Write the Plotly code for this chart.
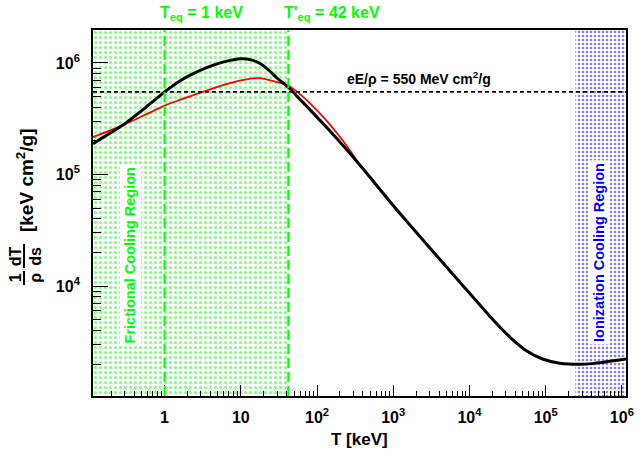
import plotly.graph_objects as go

# ---------------- data ----------------
T_black = [0.1151, 0.2805, 0.5623, 1.021, 1.517, 2.239, 3.707, 5.970, 10.0, 13.74, 18.16,
           23.50, 29.85, 42.27, 54.08, 132.4, 323.6, 1064, 2871, 7762, 20940,
           25590, 34430, 56490, 92900, 152800, 277300, 412100, 1132000]
S_black = [189200, 276100, 398100, 555900, 676100, 785200, 916200, 1021000, 1091000, 1064000, 984000,
           857000, 732800, 602600, 507000, 266100, 134300, 50120, 22910, 10570, 4898,
           4246, 3467, 2630, 2213, 2042, 1995, 2023, 2223]

T_red = [0.1151, 0.2805, 1.021, 1.517, 3.707, 10.0, 17.3, 29.85, 42.27, 54.08,
         80.5, 132.4, 217.8, 323.6]
S_red = [216800, 276100, 416900, 461300, 571500, 696600, 731100, 673000, 623700, 555900,
         436500, 305500, 201800, 138000]

eE_over_rho = 5.5e5          # keV cm^2/g  (550 MeV cm^2/g)
T_eq = 1.0                   # keV
T_eq_prime = 42.0            # keV
T_ion_start = 2.45e5         # keV, start of ionization cooling region
T_fric_start = 0.05

x_tickvals = [1, 10, 100, 1e3, 1e4, 1e5, 1e6]
x_ticktext = ["1", "10", "10<sup>2</sup>", "10<sup>3</sup>", "10<sup>4</sup>",
              "10<sup>5</sup>", "10<sup>6</sup>"]
y_tickvals = [1e4, 1e5, 1e6]
y_ticktext = ["10<sup>4</sup>", "10<sup>5</sup>", "10<sup>6</sup>"]

x_range_log = [-0.939, 6.054]
y_range_log = [3.016, 6.295]

# minor tick positions (2..9 per decade)
x_minor = [m * 10.0 ** e for e in range(-1, 7) for m in range(2, 10)]
y_minor = [m * 10.0 ** e for e in range(3, 7) for m in range(2, 10)]

FONT = "Liberation Sans, Arial, Helvetica, sans-serif"
GREEN = "#00ff00"
BLUE = "#0000ff"

fig = go.Figure()

# shaded regions (dotted patterns)
fig.add_trace(go.Scatter(
    x=[T_fric_start, T_eq_prime, T_eq_prime, T_fric_start],
    y=[100, 100, 1e7, 1e7], mode="lines", fill="toself",
    line=dict(width=0, color="rgba(0,0,0,0)"),
    fillcolor="rgba(0,0,0,0)",
    fillpattern=dict(shape=".", fgcolor=GREEN, bgcolor="rgba(0,0,0,0)",
                     size=5, solidity=0.3),
    hoverinfo="skip", showlegend=False))
fig.add_trace(go.Scatter(
    x=[T_ion_start, 1e7, 1e7, T_ion_start],
    y=[100, 100, 1e7, 1e7], mode="lines", fill="toself",
    line=dict(width=0, color="rgba(0,0,0,0)"),
    fillcolor="rgba(0,0,0,0)",
    fillpattern=dict(shape=".", fgcolor=BLUE, bgcolor="rgba(0,0,0,0)",
                     size=4, solidity=0.33),
    hoverinfo="skip", showlegend=False))

# curves
fig.add_trace(go.Scatter(x=T_red, y=S_red, mode="lines",
                         line=dict(color="#ff0000", width=1.8, shape="spline", smoothing=0.6),
                         showlegend=False))
fig.add_trace(go.Scatter(x=T_black, y=S_black, mode="lines",
                         line=dict(color="black", width=3, shape="spline", smoothing=0.6),
                         showlegend=False))

# invisible trace to hold the minor-tick overlay axes
fig.add_trace(go.Scatter(x=[1.0], y=[1e4], xaxis="x2", yaxis="y2", mode="markers",
                         marker=dict(opacity=0), hoverinfo="skip", showlegend=False))

# reference lines
fig.add_shape(type="line", xref="paper", yref="y", x0=0, x1=1,
              y0=eE_over_rho, y1=eE_over_rho,
              line=dict(color="black", width=1.6, dash="4px,3px"))
for tv in [T_eq, T_eq_prime]:
    fig.add_shape(type="line", xref="x", yref="paper", x0=tv, x1=tv, y0=0, y1=1,
                  line=dict(color=GREEN, width=2, dash="10px,4px"))

# ---- text ----
def ann(text, x, y, size, color="black", angle=0, bg=None, pad=0):
    fig.add_annotation(text=text, x=x, y=y, xref="paper", yref="paper", showarrow=False,
                       textangle=angle, xanchor="center", yanchor="middle",
                       font=dict(family=FONT, size=size, color=color),
                       bgcolor=bg, borderpad=pad)

# paper-coordinate helpers (plot area x 93..634, y 30..396)
def px(xp):
    return (xp - 93.0) / 541.0
def py(yp):
    return (396.0 - yp) / 366.0

ann("<b>T<sub>eq</sub> = 1 keV</b>", px(203), py(14), 16, GREEN)
ann("<b>T'<sub>eq</sub> = 42 keV</b>", px(336), py(14), 16, GREEN)
ann("<b>eE/ρ = 550 MeV cm<sup>2</sup>/g</b>", px(424), py(78), 14, "black")
ann("<b>Frictional Cooling Region</b>", px(131), py(255), 14.5, GREEN, angle=-90,
    bg="white", pad=2)
ann("<b>Ionization Cooling Region</b>", px(606.5), py(252), 14.5, BLUE, angle=-90,
    bg="white", pad=2)

# y-axis title pieces (fraction built from parts)
ann("<b>1</b>", px(14), py(278), 16, angle=-90)
ann("<b>ρ</b>", px(34), py(278), 16, angle=-90)
ann("<b>dT</b>", px(14), py(256), 16, angle=-90)
ann("<b>ds</b>", px(34), py(256), 16, angle=-90)
fig.add_shape(type="line", xref="paper", yref="paper", x0=px(23), x1=px(23),
              y0=py(285), y1=py(271), line=dict(color="black", width=2))
fig.add_shape(type="line", xref="paper", yref="paper", x0=px(23), x1=px(23),
              y0=py(268), y1=py(244), line=dict(color="black", width=2))
ann("<b>[keV cm<sup>2</sup>/g]</b>", px(24), py(180), 19, angle=-90)

# x axis title
ann("<b>T [keV]</b>", px(364), py(440), 17)

axis_common = dict(
    type="log", showgrid=False, zeroline=False,
    showline=True, linecolor="black", linewidth=1.8, mirror=True,
    ticks="inside", tickcolor="black", tickwidth=1.2,
    tickfont=dict(family=FONT, size=16, color="black"),
)
fig.update_layout(
    xaxis=dict(**axis_common, range=x_range_log, tickvals=x_tickvals,
               ticktext=["<b>%s</b>" % t for t in x_ticktext], ticklen=11,
               ticklabelstandoff=6),
    yaxis=dict(**axis_common, range=y_range_log, tickvals=y_tickvals,
               ticktext=["<b>%s</b>" % t for t in y_ticktext], ticklen=15,
               ticklabelstandoff=8),
    xaxis2=dict(type="log", range=x_range_log, overlaying="x", anchor="y2", side="bottom",
                tickvals=x_minor, ticks="inside", ticklen=5.5, tickwidth=1,
                tickcolor="black", showticklabels=False, showgrid=False,
                zeroline=False, showline=False),
    yaxis2=dict(type="log", range=y_range_log, overlaying="y", anchor="x2", side="left",
                tickvals=y_minor, ticks="inside", ticklen=7.5, tickwidth=1,
                tickcolor="black", showticklabels=False, showgrid=False,
                zeroline=False, showline=False),
    width=642, height=460,
    margin=dict(l=93, r=8, t=30, b=64),
    paper_bgcolor="white", plot_bgcolor="white",
    showlegend=False,
)

fig.write_html("out.html")
